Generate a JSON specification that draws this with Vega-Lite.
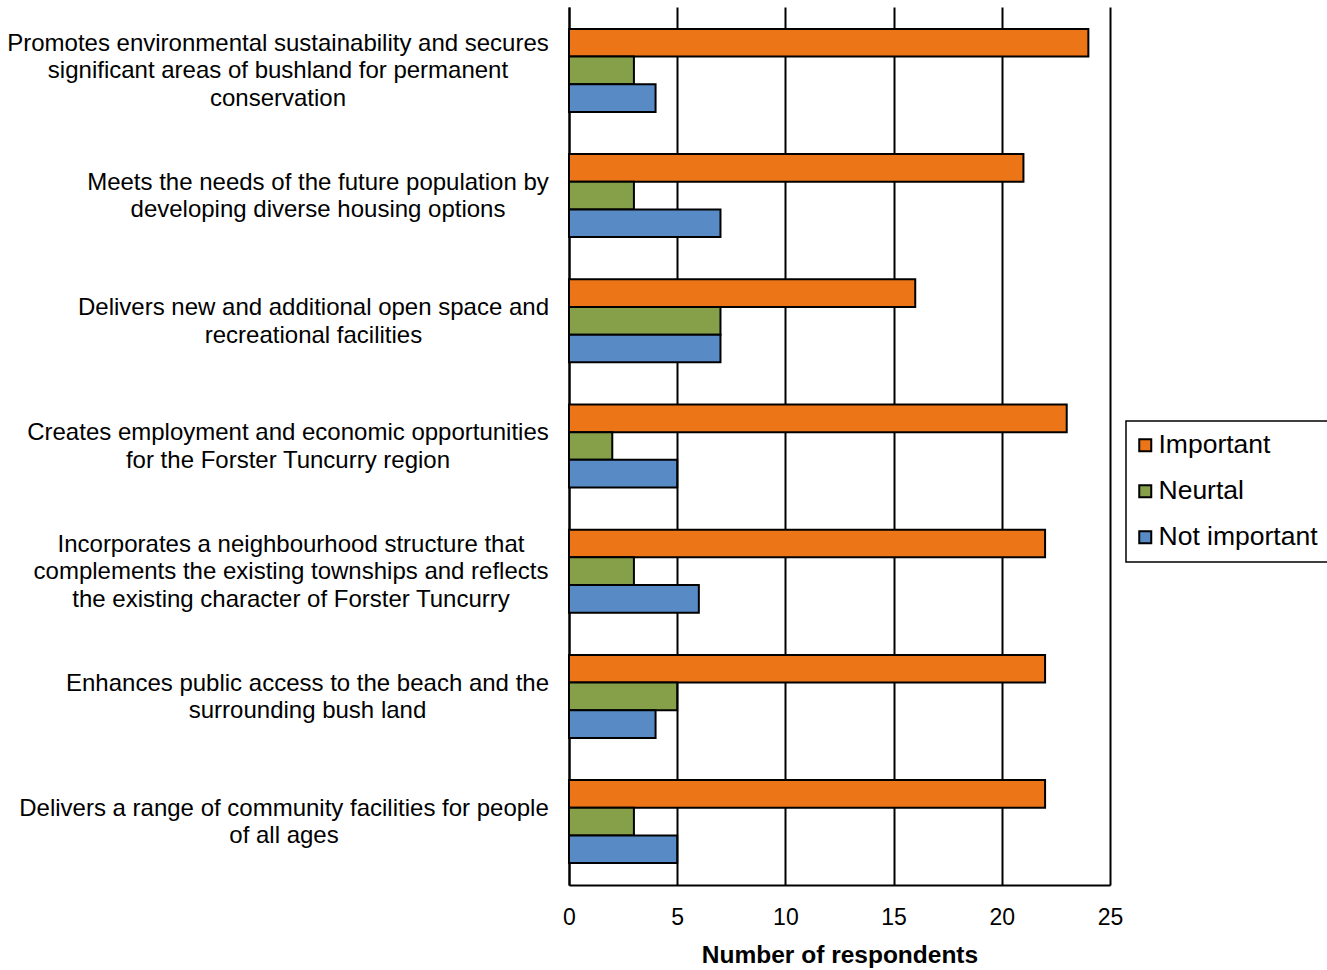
{
  "$schema": "https://vega.github.io/schema/vega-lite/v6.json",
  "width": 541,
  "height": 878,
  "autosize": {"type": "none"},
  "padding": {"left": 569, "top": 7, "right": 217, "bottom": 85},
  "background": "white",
  "config": {"view": {"stroke": null}, "font": "Liberation Sans"},
  "data": {
    "values": [
      {"statement": "Promotes environmental sustainability and secures\nsignificant areas of bushland for permanent\nconservation", "rating": "Important", "count": 24},
      {"statement": "Promotes environmental sustainability and secures\nsignificant areas of bushland for permanent\nconservation", "rating": "Neurtal", "count": 3},
      {"statement": "Promotes environmental sustainability and secures\nsignificant areas of bushland for permanent\nconservation", "rating": "Not important", "count": 4},
      {"statement": "Meets the needs of the future population by\ndeveloping diverse housing options", "rating": "Important", "count": 21},
      {"statement": "Meets the needs of the future population by\ndeveloping diverse housing options", "rating": "Neurtal", "count": 3},
      {"statement": "Meets the needs of the future population by\ndeveloping diverse housing options", "rating": "Not important", "count": 7},
      {"statement": "Delivers new and additional open space and\nrecreational facilities", "rating": "Important", "count": 16},
      {"statement": "Delivers new and additional open space and\nrecreational facilities", "rating": "Neurtal", "count": 7},
      {"statement": "Delivers new and additional open space and\nrecreational facilities", "rating": "Not important", "count": 7},
      {"statement": "Creates employment and economic opportunities\nfor the Forster Tuncurry region", "rating": "Important", "count": 23},
      {"statement": "Creates employment and economic opportunities\nfor the Forster Tuncurry region", "rating": "Neurtal", "count": 2},
      {"statement": "Creates employment and economic opportunities\nfor the Forster Tuncurry region", "rating": "Not important", "count": 5},
      {"statement": "Incorporates a neighbourhood structure that\ncomplements the existing townships and reflects\nthe existing character of Forster Tuncurry", "rating": "Important", "count": 22},
      {"statement": "Incorporates a neighbourhood structure that\ncomplements the existing townships and reflects\nthe existing character of Forster Tuncurry", "rating": "Neurtal", "count": 3},
      {"statement": "Incorporates a neighbourhood structure that\ncomplements the existing townships and reflects\nthe existing character of Forster Tuncurry", "rating": "Not important", "count": 6},
      {"statement": "Enhances public access to the beach and the\nsurrounding bush land", "rating": "Important", "count": 22},
      {"statement": "Enhances public access to the beach and the\nsurrounding bush land", "rating": "Neurtal", "count": 5},
      {"statement": "Enhances public access to the beach and the\nsurrounding bush land", "rating": "Not important", "count": 4},
      {"statement": "Delivers a range of community facilities for people\nof all ages", "rating": "Important", "count": 22},
      {"statement": "Delivers a range of community facilities for people\nof all ages", "rating": "Neurtal", "count": 3},
      {"statement": "Delivers a range of community facilities for people\nof all ages", "rating": "Not important", "count": 5}
    ]
  },
  "mark": {"type": "bar", "stroke": "black", "strokeWidth": 2},
  "encoding": {
    "y": {
      "field": "statement",
      "type": "nominal",
      "sort": null,
      "scale": {"paddingInner": 0.337, "paddingOuter": 0.175},
      "axis": {
        "title": null,
        "ticks": false,
        "domainColor": "black",
        "domainWidth": 2,
        "labelExpr": "split(datum.value, '\\n')",
        "labelFontSize": 24,
        "labelLineHeight": 27.5,
        "labelColor": "black",
        "labelAlign": "center",
        "labelBaseline": "middle",
        "labelLimit": 0,
        "labelOverlap": false,
        "labelBound": false,
        "labelOffset": {
          "condition": [
            {"test": "indexof(datum.value, 'Promotes') === 0", "value": -26.5},
            {"test": "indexof(datum.value, 'Incorporates') === 0", "value": -26.5}
          ],
          "value": -12.75
        },
        "labelPadding": {
          "condition": [
            {"test": "indexof(datum.value, 'Promotes') === 0", "value": 291.5},
            {"test": "indexof(datum.value, 'Meets') === 0", "value": 251.5},
            {"test": "indexof(datum.value, 'Delivers new') === 0", "value": 256},
            {"test": "indexof(datum.value, 'Creates') === 0", "value": 281.5},
            {"test": "indexof(datum.value, 'Incorporates') === 0", "value": 278.5},
            {"test": "indexof(datum.value, 'Enhances') === 0", "value": 262}
          ],
          "value": 285.5
        }
      }
    },
    "yOffset": {
      "field": "rating",
      "type": "nominal",
      "sort": ["Important", "Neurtal", "Not important"],
      "scale": {"paddingInner": 0, "paddingOuter": 0}
    },
    "x": {
      "field": "count",
      "type": "quantitative",
      "scale": {"domain": [0, 25], "nice": false},
      "axis": {
        "title": "Number of respondents",
        "values": [0, 5, 10, 15, 20, 25],
        "ticks": false,
        "grid": true,
        "gridColor": "black",
        "gridWidth": 2,
        "gridOpacity": 1,
        "domainColor": "black",
        "domainWidth": 2,
        "labelFontSize": 23,
        "labelColor": "black",
        "labelPadding": 21,
        "labelFlush": false,
        "titleFontSize": 24.5,
        "titleFontWeight": "bold",
        "titleColor": "black",
        "titlePadding": 14
      }
    },
    "color": {
      "field": "rating",
      "type": "nominal",
      "scale": {
        "domain": ["Important", "Neurtal", "Not important"],
        "range": ["#EC7518", "#86A04A", "#588BC6"]
      },
      "legend": {
        "orient": "none",
        "legendX": 557,
        "legendY": 414,
        "title": null,
        "strokeColor": "black",
        "fillColor": "white",
        "padding": 11,
        "symbolType": "square",
        "symbolSize": 144,
        "symbolOffset": -5,
        "symbolStrokeColor": "black",
        "symbolStrokeWidth": 2,
        "labelFontSize": 26.5,
        "labelColor": "black",
        "labelOffset": 0,
        "rowPadding": 19,
        "encode": {"legend": {"update": {"strokeWidth": {"value": 1.5}}}}
      }
    }
  }
}
